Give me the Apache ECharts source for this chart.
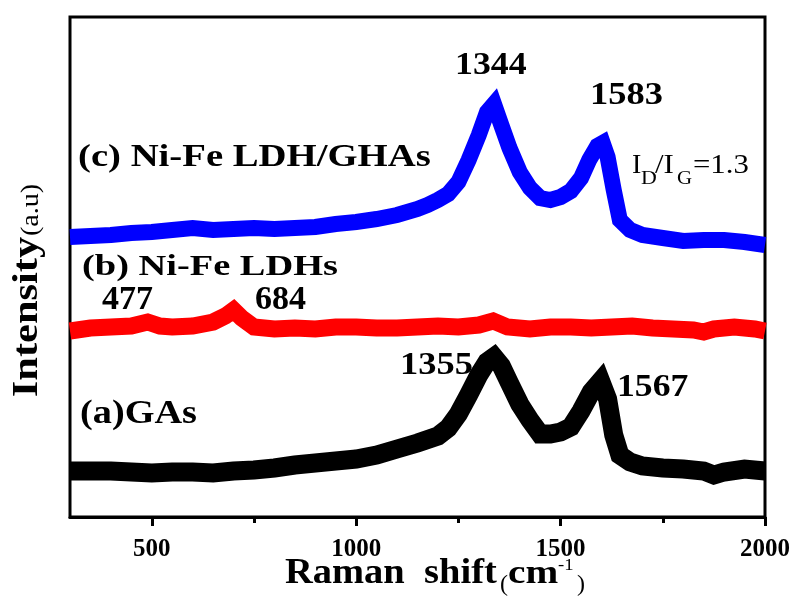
<!DOCTYPE html>
<html>
<head>
<meta charset="utf-8">
<script src="https://cdn.jsdelivr.net/npm/echarts@6/dist/echarts.min.js"></script>
<style>
html, body { margin: 0; padding: 0; background: #fff; }
#chart { width: 801px; height: 596px; }
</style>
</head>
<body>
<div id="chart"></div>
<script>
// Raman shift (cm-1) / intensity (a.u., stacked offsets)
const shiftC = [300, 350, 400, 450, 500, 550, 600, 650, 700, 750, 800, 850, 900, 950, 1000, 1050, 1100, 1150, 1175, 1200, 1225, 1250, 1275, 1300, 1320, 1337, 1355, 1375, 1400, 1425, 1450, 1475, 1500, 1525, 1550, 1570, 1590, 1603, 1615, 1630, 1645, 1670, 1700, 1750, 1800, 1850, 1900, 1950, 2000]
const intC = [56.0, 56.2, 56.4, 56.8, 57.0, 57.4, 57.8, 57.4, 57.6, 57.8, 57.6, 57.8, 58.0, 58.6, 59.0, 59.6, 60.4, 61.6, 62.4, 63.4, 64.6, 67.0, 71.4, 76.4, 81.0, 82.6, 78.4, 73.8, 69.0, 65.8, 63.8, 63.4, 64.0, 65.2, 67.8, 71.4, 74.2, 74.8, 72.0, 65.4, 59.4, 57.4, 56.4, 55.8, 55.2, 55.4, 55.4, 55.0, 54.4]

const shiftB = [300, 350, 400, 450, 490, 520, 550, 600, 650, 680, 700, 720, 750, 800, 850, 900, 950, 1000, 1050, 1100, 1150, 1200, 1250, 1300, 1335, 1370, 1425, 1475, 1525, 1575, 1625, 1675, 1725, 1775, 1825, 1850, 1875, 1925, 1975, 2000]
const intB = [37.2, 37.8, 38.0, 38.2, 39.0, 38.2, 38.0, 38.2, 39.0, 40.2, 41.4, 39.8, 38.0, 37.6, 37.8, 37.6, 38.0, 38.0, 37.8, 37.8, 38.0, 38.2, 38.0, 38.4, 39.2, 38.0, 37.6, 38.0, 38.0, 37.8, 38.0, 38.2, 37.8, 37.6, 37.4, 37.0, 37.6, 38.0, 37.6, 37.2]

const shiftA = [300, 350, 400, 450, 500, 550, 600, 650, 700, 750, 800, 850, 900, 950, 1000, 1050, 1100, 1150, 1200, 1225, 1250, 1275, 1300, 1320, 1337, 1355, 1375, 1400, 1425, 1450, 1475, 1500, 1525, 1550, 1575, 1598, 1615, 1630, 1645, 1670, 1700, 1750, 1800, 1850, 1875, 1900, 1950, 2000]
const intA = [9.2, 9.2, 9.2, 9.0, 8.8, 9.0, 9.0, 8.8, 9.2, 9.4, 9.8, 10.4, 10.8, 11.2, 11.6, 12.4, 13.6, 14.8, 16.2, 17.8, 20.6, 24.4, 28.4, 31.0, 32.0, 30.2, 26.8, 22.6, 19.4, 16.6, 16.6, 17.0, 18.0, 21.2, 25.0, 27.2, 23.6, 16.4, 12.4, 11.0, 10.2, 9.8, 9.6, 9.2, 8.4, 9.0, 9.6, 9.2]

const majorTicks = [500, 1000, 1500, 2000]
const minorTicks = [750, 1250, 1750]

const SERIF = '"Liberation Serif", "Times New Roman", serif'

const zip = (xs, ys) => xs.map((x, i) => [x, ys[i]])

// text placed on the plot; scaleX stretches glyphs the way the figure does
function label(text, x, y, size, sx, opts) {
  opts = opts || {}
  return {
    type: 'text',
    x: x,
    y: y,
    scaleX: sx,
    rotation: opts.rotation || 0,
    z: 100,
    style: {
      text: text,
      font: (opts.weight || 'bold') + ' ' + size + 'px ' + SERIF,
      fill: '#000',
      align: opts.align || 'left',
      verticalAlign: 'middle'
    }
  }
}

const gridBox = { left: 70, right: 36, top: 17, bottom: 79 }

const chart = echarts.init(document.getElementById('chart'))

chart.setOption({
  animation: false,
  backgroundColor: '#fff',
  // second grid sits on the first one and only carries the short minor ticks
  grid: [
    Object.assign({ show: true, borderColor: '#000', borderWidth: 3 }, gridBox),
    Object.assign({ show: false }, gridBox)
  ],
  xAxis: [{
    gridIndex: 0,
    type: 'value',
    min: 300,
    max: 2000,
    axisLine: { show: true, lineStyle: { color: '#000', width: 3 } },
    splitLine: { show: false },
    axisTick: {
      show: true,
      customValues: majorTicks,
      length: 9,
      lineStyle: { color: '#000', width: 3 }
    },
    axisLabel: {
      customValues: majorTicks,
      formatter: v => String(v),
      color: '#000',
      fontFamily: SERIF,
      fontWeight: 'bold',
      fontSize: 25,
      margin: 20
    }
  }, {
    gridIndex: 1,
    type: 'value',
    min: 300,
    max: 2000,
    axisLine: { show: false },
    splitLine: { show: false },
    axisLabel: { show: false },
    axisTick: {
      show: true,
      customValues: minorTicks,
      length: 6,
      lineStyle: { color: '#000', width: 3 }
    }
  }],
  yAxis: [0, 1].map(i => ({
    gridIndex: i,
    type: 'value',
    min: 0,
    max: 100,
    axisLine: { show: false },
    axisTick: { show: false },
    axisLabel: { show: false },
    splitLine: { show: false }
  })),
  series: [
    {
      name: '(c) Ni-Fe LDH/GHAs',
      type: 'line',
      data: zip(shiftC, intC),
      showSymbol: false,
      lineStyle: { color: '#0000ff', width: 16, join: 'miter', miterLimit: 6 }
    },
    {
      name: '(b) Ni-Fe LDHs',
      type: 'line',
      data: zip(shiftB, intB),
      showSymbol: false,
      lineStyle: { color: '#ff0000', width: 17, join: 'miter', miterLimit: 6 }
    },
    {
      name: '(a)GAs',
      type: 'line',
      data: zip(shiftA, intA),
      showSymbol: false,
      lineStyle: { color: '#000000', width: 19, join: 'miter', miterLimit: 6 }
    }
  ],
  graphic: [
    label('(c) Ni-Fe LDH/GHAs', 78, 158, 32, 1.21),
    label('(b) Ni-Fe LDHs', 82, 267, 30, 1.28),
    label('(a)GAs', 80, 414, 33, 1.16),
    label('1344', 455, 66, 32, 1.12),
    label('1583', 590, 96, 32, 1.14),
    label('477', 102, 300, 34, 1),
    label('684', 255, 300, 34, 1),
    label('1355', 400, 366, 32, 1.14),
    label('1567', 617, 388, 31, 1.15),
    // I_D/I_G = 1.3
    label('I', 632, 166, 28, 1, { weight: 'normal' }),
    label('D', 641, 179, 19, 1.15, { weight: 'normal' }),
    label('/I', 655, 166, 28, 1.1, { weight: 'normal' }),
    label('G', 677, 179, 19, 1.1, { weight: 'normal' }),
    label('=1.3', 693, 166, 28, 1.1, { weight: 'normal' }),
    // x axis title
    label('Raman  shift', 285, 574, 35, 1.1),
    label('(', 500, 585, 24, 1, { weight: 'normal' }),
    label('cm', 508, 574, 33, 1.19),
    label('-1', 558, 566, 17, 1.1, { weight: 'normal' }),
    label(')', 577, 585, 24, 1, { weight: 'normal' }),
    // y axis title, reads bottom to top
    label('Intensity', 28, 317, 36, 1.18, { rotation: Math.PI / 2, align: 'center' }),
    label('(a.u)', 31, 210, 26, 1.08, { rotation: Math.PI / 2, align: 'center', weight: 'normal' })
  ]
})
</script>
</body>
</html>
